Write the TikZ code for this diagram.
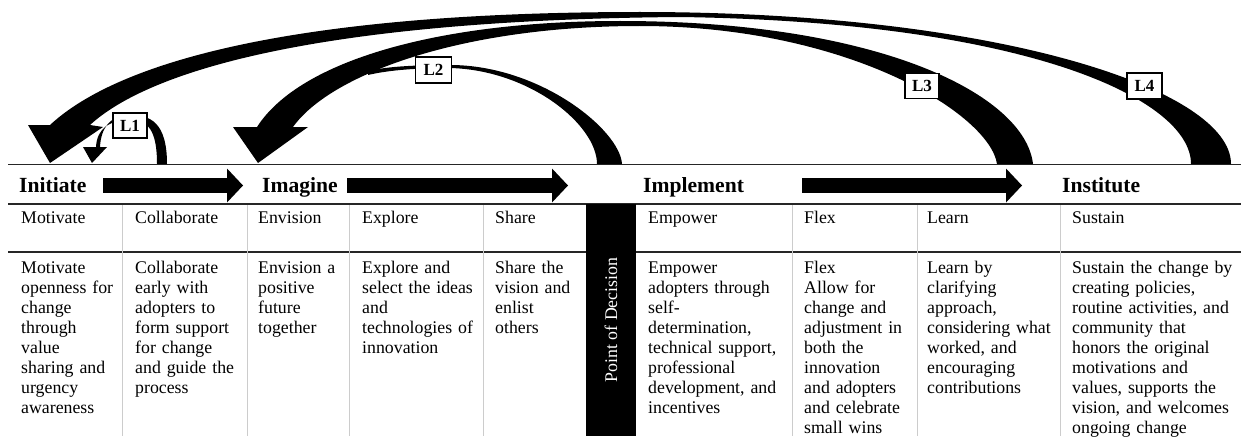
\documentclass[tikz,border=0pt]{standalone}
\usepackage{fontspec}
\setmainfont{Liberation Serif}
\usepackage{tikz}
\usetikzlibrary{arrows.meta, positioning}
\definecolor{ruleBlack}{gray}{0.15}
\definecolor{gridGray}{gray}{0.8}
\newcommand{\cellfont}{\fontsize{17.8}{20}\selectfont}
\newcommand{\phasefont}{\fontsize{21.6}{24}\selectfont\bfseries}

\begin{document}
\begin{tikzpicture}[x=1pt, y=-1pt,
    phaseHead/.style={anchor=base west, inner sep=0pt, font=\phasefont},
    phaseArrow/.style={line width=15pt, -{Triangle[length=16pt, width=34pt, line width=0pt]}},
    cellHead/.style={anchor=base west, inner sep=0pt, font=\cellfont},
    cellBody/.style={anchor=base west, inner sep=0pt, font=\cellfont, text width=#1, align=left},
    loopTag/.style={draw, fill=white, line width=1.3pt, inner sep=0pt,
        minimum width=34pt, minimum height=25pt, font=\fontsize{17}{17}\selectfont\bfseries}]
    \useasboundingbox (0,0) rectangle (1241,436);
    \clip (0,0) rectangle (1241,436);

    % table rules
    \draw[ruleBlack, line width=1pt] (8,164) -- (1241,164);
    \draw[ruleBlack, line width=1.8pt] (8,204) -- (1241,204);
    \draw[ruleBlack, line width=1.2pt] (8,252) -- (1241,252);
    \foreach \x in {122, 247, 349, 483, 792, 917, 1060}
        \draw[gridGray, line width=1pt] (\x,205) -- (\x,436);

    % decision bar
    \fill (586,204) rectangle (636,436);
    \node[rotate=90, text=white, inner sep=0pt, font=\cellfont] (decision) at (611,320) {Point of Decision};

    % phases
    \node[phaseHead] (initiate) at (19,192.5) {Initiate};
    \node[phaseHead] (imagine) at (262,192.5) {Imagine};
    \node[phaseHead] (implement) at (643,192.5) {Implement};
    \node[phaseHead] (institute) at (1062,192.5) {Institute};

    \coordinate (arrA1) at (103,185.5);
    \coordinate (arrA2) at (243,185.5);
    \coordinate (arrB1) at (347,185.5);
    \coordinate (arrB2) at (568,185.5);
    \coordinate (arrC1) at (802,185.5);
    \coordinate (arrC2) at (1022,185.5);
    \draw[phaseArrow] (arrA1) -- (arrA2);
    \draw[phaseArrow] (arrB1) -- (arrB2);
    \draw[phaseArrow] (arrC1) -- (arrC2);

    % column heads
    \foreach \x/\t [count=\i] in {21/Motivate, 135/Collaborate, 258/Envision, 362/Explore, 495/Share,
        648/Empower, 804/Flex, 927/Learn, 1072/Sustain}
        \node[cellHead] (head\i) at (\x,223) {\t};

    % column texts
    \node[cellBody=100pt] (motivate) at (21,273) {Motivate\\openness for\\change\\through\\value\\sharing and\\urgency\\awareness};
    \node[cellBody=105pt] (collaborate) at (135,273) {Collaborate\\early with\\adopters to\\form support\\for change\\and guide the\\process};
    \node[cellBody=90pt] (envision) at (258,273) {Envision a\\positive\\future\\together};
    \node[cellBody=120pt] (explore) at (362,273) {Explore and\\select the ideas\\and\\technologies of\\innovation};
    \node[cellBody=90pt] (share) at (495,273) {Share the\\vision and\\enlist\\others};
    \node[cellBody=140pt] (empower) at (648,273) {Empower\\adopters through\\self-\\determination,\\technical support,\\professional\\development, and\\incentives};
    \node[cellBody=110pt] (flex) at (804,273) {Flex\\Allow for\\change and\\adjustment in\\both the\\innovation\\and adopters\\and celebrate\\small wins};
    \node[cellBody=130pt] (learn) at (927,273) {Learn by\\clarifying\\approach,\\considering what\\worked, and\\encouraging\\contributions};
    \node[cellBody=170pt] (sustain) at (1072,273) {Sustain the change by\\creating policies,\\routine activities, and\\community that\\honors the original\\motivations and\\values, supports the\\vision, and welcomes\\ongoing change};

    % L4: institute back to initiate
    \fill (1231,164) .. controls (1231,90) and (1000,12) .. (640,12)
        .. controls (300,12) and (120,60) .. (50,125)
        -- (28,125) -- (50,163) -- (103,127) -- (90,125)
        .. controls (150,70) and (320,20) .. (680,17)
        .. controls (1030,22) and (1191,100) .. (1191,164) -- cycle;

    % L3: learn back to imagine
    \fill (1033,164) .. controls (1025,95) and (880,21) .. (620,21)
        .. controls (440,21) and (300,60) .. (257,127)
        -- (233,127) -- (258,163) -- (308,127) -- (293,127)
        .. controls (330,75) and (460,26) .. (640,26)
        .. controls (850,26) and (990,115) .. (997,164) -- cycle;

    % L2: decision joins L3
    \fill (622,164) .. controls (620,130) and (540,65) .. (450,65)
        .. controls (410,65) and (385,67) .. (368,71)
        -- (368,75)
        .. controls (385,71) and (410,68) .. (450,68)
        .. controls (530,70) and (597,125) .. (597,164) -- cycle;

    % L1: small loop inside initiate
    \fill (167,164) .. controls (167,122) and (150,115) .. (130,115)
        .. controls (110,115) and (101,128) .. (100,147)
        -- (107,147) -- (92,163) -- (83,147) -- (96,147)
        .. controls (97,128) and (110,120) .. (130,120)
        .. controls (148,120) and (157,130) .. (157,164) -- cycle;

    \node[loopTag] (tagL1) at (130,125.5) {L1};
    \node[loopTag, minimum width=36pt, minimum height=26pt] (tagL2) at (433.5,70) {L2};
    \node[loopTag] (tagL3) at (922,86) {L3};
    \node[loopTag, minimum width=35pt, minimum height=26pt] (tagL4) at (1144.5,86) {L4};
\end{tikzpicture}
\end{document}
